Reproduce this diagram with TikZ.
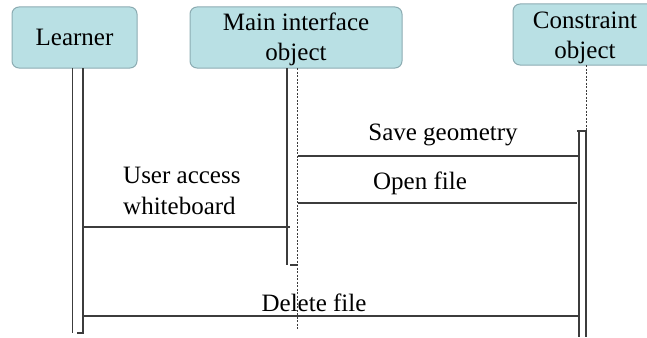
\documentclass[tikz,border=0pt]{standalone}
\usepackage{fontspec}
\setmainfont{Liberation Serif}
\definecolor{boxfill}{RGB}{185,224,228}
\definecolor{boxborder}{RGB}{140,172,178}
\definecolor{linegray}{RGB}{60,60,60}
\tikzset{
  obj/.style={draw=boxborder, fill=boxfill, rounded corners=7pt, line width=1pt,
    minimum height=61pt, inner sep=0pt, align=center,
    font=\fontsize{25}{30}\selectfont, text=black},
  life/.style={draw=linegray, line width=1.3pt},
  lifedash/.style={draw=linegray, line width=0.9pt, dash pattern=on 2pt off 1.5pt},
  msg/.style={draw=linegray, line width=1.3pt},
  lbl/.style={font=\fontsize{25}{30}\selectfont, inner sep=0pt, text=black}
}
\begin{document}
\begin{tikzpicture}[x=1pt,y=-1pt]
\useasboundingbox (0,0) rectangle (647,337);
% objects
\node[obj, minimum width=125pt] (learner) at (74.5,37.5) {Learner};
\node[obj, minimum width=212pt] (main) at (296,37.5) {\rule{0pt}{21pt}Main interface\\object};
\node[obj, minimum width=144pt] (cons) at (585,34.5) {\rule{0pt}{23pt}Constraint\\object};
% learner lifeline
\coordinate (lAt) at (72.5,68); \coordinate (lAb) at (72.5,333);
\coordinate (lBt) at (83,68);   \coordinate (lBb) at (83,333);
\coordinate (lTk) at (77,333);
\draw[life] (lAt) -- (lAb);
\draw[life] (lBt) -- (lBb) -- (lTk);
% main lifeline
\coordinate (mAt) at (287,68); \coordinate (mAb) at (287,265);
\coordinate (mTk) at (297,265);
\coordinate (mDt) at (297,68); \coordinate (mDb) at (297,330);
\draw[life] (mAt) -- (mAb);
\draw[life] (290,265) -- (mTk);
\draw[lifedash] (mDt) -- (mDb);
% constraint lifeline
\coordinate (cDt) at (586,65); \coordinate (cDb) at (586,131);
\coordinate (cAt) at (579,131); \coordinate (cAb) at (579,337);
\coordinate (cBb) at (586,337);
\coordinate (cTk) at (577,131);
\draw[lifedash] (cDt) -- (cDb);
\draw[life] (cTk) -- (586,131) -- (cBb);
\draw[life] (cAt) -- (cAb);
% messages
\coordinate (sg1) at (298,156); \coordinate (sg2) at (579,156);
\draw[msg] (sg1) -- (sg2);
\node[lbl, anchor=base] (sglbl) at (443,140) {Save geometry};
\coordinate (of1) at (298,203); \coordinate (of2) at (577,203);
\draw[msg] (of1) -- (of2);
\node[lbl, anchor=base] (oflbl) at (420,189) {Open file};
\coordinate (ua1) at (83,227); \coordinate (ua2) at (290,227);
\draw[msg] (ua1) -- (ua2);
\node[lbl, anchor=base west, align=left, font=\fontsize{25}{31}\selectfont] (ualbl) at (123,214) {User access\\whiteboard};
\coordinate (df1) at (83,316); \coordinate (df2) at (580,316);
\draw[msg] (df1) -- (df2);
\node[lbl, anchor=base] (dflbl) at (314,311.5) {Delete file};
\end{tikzpicture}
\end{document}
